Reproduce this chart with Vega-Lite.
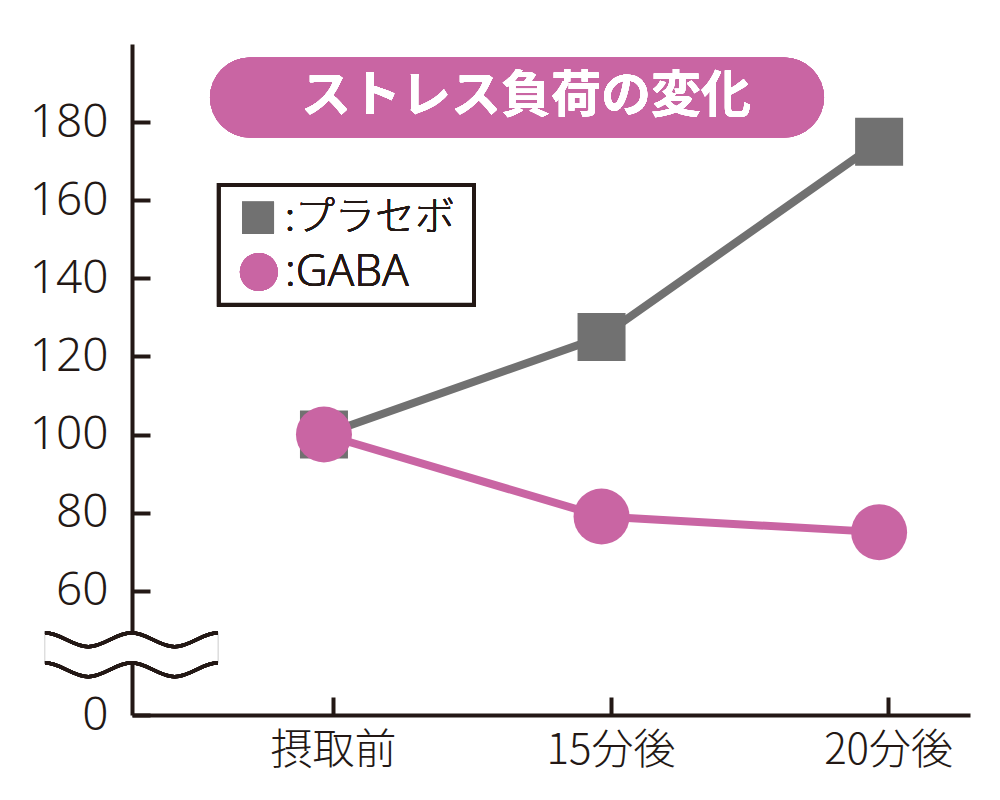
{
  "$schema": "https://vega.github.io/schema/vega-lite/v6.json",
  "autosize": {"type": "none"},
  "width": 838,
  "height": 671,
  "padding": {"left": 132, "top": 44, "right": 30, "bottom": 85},
  "background": "white",
  "config": {
    "view": {"stroke": null},
    "axis": {
      "domainColor": "#231815",
      "domainWidth": 4,
      "tickColor": "#231815",
      "tickWidth": 4,
      "tickSize": -18,
      "grid": false,
      "title": null,
      "labelColor": "#231815"
    }
  },
  "data": {
    "values": [
      {"time": "摂取前", "t": 0, "series": "プラセボ", "value": 100},
      {"time": "15分後", "t": 1, "series": "プラセボ", "value": 125},
      {"time": "20分後", "t": 2, "series": "プラセボ", "value": 175},
      {"time": "摂取前", "t": 0, "series": "GABA", "value": 100},
      {"time": "15分後", "t": 1, "series": "GABA", "value": 79},
      {"time": "20分後", "t": 2, "series": "GABA", "value": 75}
    ]
  },
  "encoding": {
    "x": {
      "field": "t",
      "type": "quantitative",
      "scale": {"domain": [-0.724, 2.295], "nice": false, "zero": false},
      "axis": {
        "values": [0, 1, 2],
        "labelExpr": "datum.value == 0 ? '摂取前' : datum.value == 1 ? '15分後' : '20分後'",
        "labelFont": "Noto Sans CJK JP",
        "labelFontWeight": 300,
        "labelFontSize": 42,
        "labelPadding": 33,
        "labelBaseline": "top"
      }
    },
    "y": {
      "field": "value",
      "type": "quantitative",
      "scale": {"domain": [0, 60, 200], "range": [671, 546.7, 0], "nice": false, "zero": false},
      "axis": {
        "values": [0, 60, 80, 100, 120, 140, 160, 180],
        "labelFont": "Noto Sans",
        "labelFontWeight": 300,
        "labelFontSize": 46,
        "labelPadding": 42
      }
    }
  },
  "layer": [
    {
      "mark": {"type": "rule", "strokeWidth": 80, "strokeCap": "round", "color": "#c965a3"},
      "encoding": {
        "x": {"datum": -0.299},
        "x2": {"datum": 1.625},
        "y": {"datum": 186.3}
      }
    },
    {
      "mark": {"type": "text", "text": "ストレス負荷の変化", "font": "Noto Sans CJK JP", "fontWeight": "bold", "fontSize": 50, "color": "white", "align": "center", "baseline": "middle"},
      "encoding": {
        "x": {"datum": 0.695},
        "y": {"datum": 186.3}
      }
    },
    {
      "mark": {"type": "rect", "fill": "white", "stroke": "#231815", "strokeWidth": 4},
      "encoding": {
        "x": {"datum": -0.4108},
        "x2": {"datum": 0.5081},
        "y": {"datum": 163.9},
        "y2": {"datum": 133.2}
      }
    },
    {
      "mark": {"type": "point", "shape": "square", "filled": true, "opacity": 1, "color": "#717171", "size": 1024},
      "encoding": {
        "x": {"datum": -0.27},
        "y": {"datum": 155.5}
      }
    },
    {
      "mark": {"type": "point", "shape": "circle", "filled": true, "opacity": 1, "color": "#c965a3", "size": 1444},
      "encoding": {
        "x": {"datum": -0.267},
        "y": {"datum": 141.6}
      }
    },
    {
      "mark": {"type": "text", "text": ":プラセボ", "font": "Noto Sans CJK JP", "fontWeight": 300, "fontSize": 40, "color": "#231815", "align": "left", "baseline": "middle"},
      "encoding": {
        "x": {"datum": -0.173},
        "y": {"datum": 155.5}
      }
    },
    {
      "mark": {"type": "text", "text": ":GABA", "font": "Noto Sans", "fontWeight": 300, "fontSize": 44, "color": "#231815", "align": "left", "baseline": "middle", "dy": 1},
      "encoding": {
        "x": {"datum": -0.173},
        "y": {"datum": 141.6}
      }
    },
    {
      "mark": {
        "type": "point",
        "shape": "M-1,-0.254 C-0.82,-0.254 -0.68,-0.0925 -0.5,-0.0925 S-0.18,-0.254 0,-0.254 S0.32,-0.0925 0.5,-0.0925 S0.82,-0.254 1,-0.254 L1,0.093 C0.82,0.093 0.68,0.254 0.5,0.254 S0.18,0.093 0,0.093 S-0.32,0.254 -0.5,0.254 S-0.82,0.093 -1,0.093 Z",
        "filled": true,
        "fill": "white",
        "opacity": 1,
        "stroke": "#dddddd",
        "strokeWidth": 1,
        "size": 29929
      },
      "encoding": {
        "x": {"datum": -0.726},
        "y": {"datum": 29.1}
      }
    },
    {
      "mark": {
        "type": "point",
        "shape": "M-1,-0.254 C-0.82,-0.254 -0.68,-0.0925 -0.5,-0.0925 S-0.18,-0.254 0,-0.254 S0.32,-0.0925 0.5,-0.0925 S0.82,-0.254 1,-0.254 M-1,0.093 C-0.82,0.093 -0.68,0.254 -0.5,0.254 S-0.18,0.093 0,0.093 S0.32,0.254 0.5,0.254 S0.82,0.093 1,0.093",
        "filled": false,
        "stroke": "#231815",
        "strokeWidth": 3.5,
        "opacity": 1,
        "size": 29929
      },
      "encoding": {
        "x": {"datum": -0.726},
        "y": {"datum": 29.1}
      }
    },
    {
      "mark": {"type": "line", "strokeWidth": 8, "xOffset": -9},
      "encoding": {
        "color": {
          "field": "series",
          "type": "nominal",
          "scale": {"domain": ["プラセボ", "GABA"], "range": ["#717171", "#c965a3"]},
          "legend": null
        }
      }
    },
    {
      "mark": {"type": "point", "filled": true, "opacity": 1, "xOffset": -9},
      "encoding": {
        "color": {
          "field": "series",
          "type": "nominal",
          "scale": {"domain": ["プラセボ", "GABA"], "range": ["#717171", "#c965a3"]},
          "legend": null
        },
        "shape": {
          "field": "series",
          "type": "nominal",
          "scale": {"domain": ["プラセボ", "GABA"], "range": ["square", "circle"]},
          "legend": null
        },
        "size": {
          "condition": {"test": "datum.series === 'GABA'", "value": 3136},
          "value": 2304
        }
      }
    }
  ]
}
